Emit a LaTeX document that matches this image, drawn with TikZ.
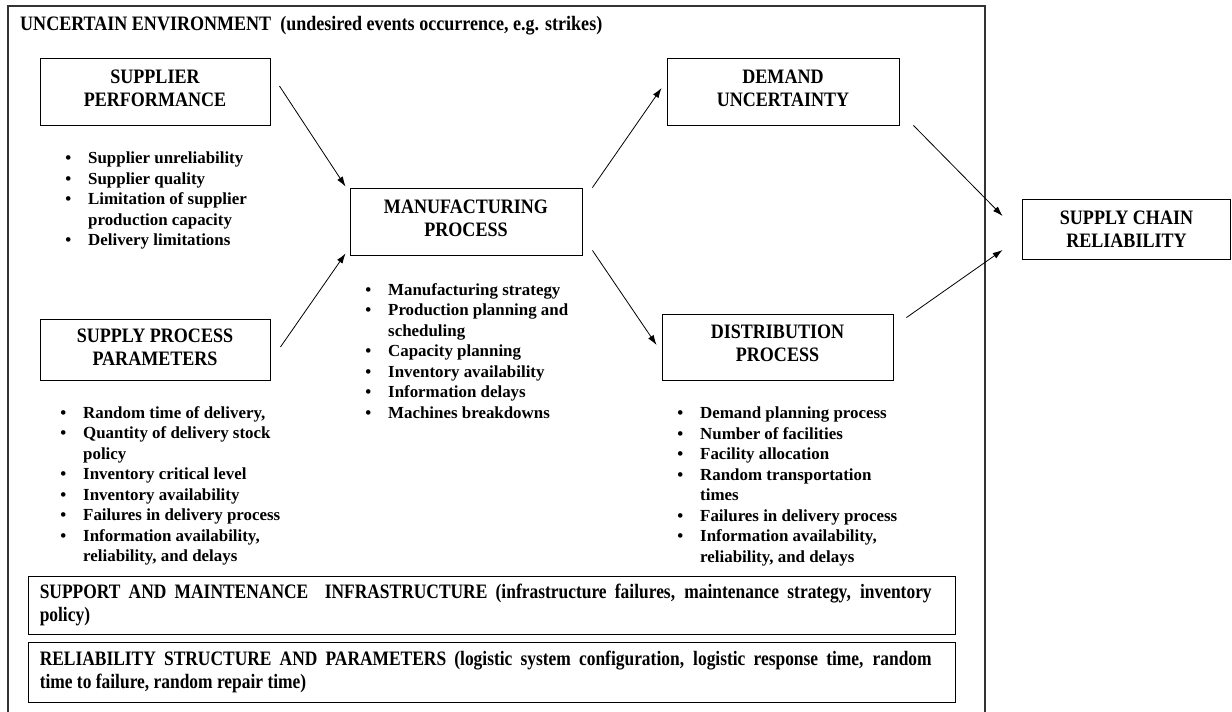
\documentclass[tikz,border=0pt]{standalone}
\usepackage{fontspec}
\setmainfont{Liberation Serif}
\newfontfamily\hdfont[FakeStretch=0.88]{Liberation Serif}
\newfontfamily\barfont[FakeStretch=0.85]{Liberation Serif}
\usetikzlibrary{arrows.meta,calc}
\newcommand\bitem[1]{\llap{\textbullet\hspace*{17pt}}#1}
\begin{document}
\begin{tikzpicture}[x=1pt,y=-1pt,
  box/.style={draw,line width=0.9pt,inner sep=0pt,align=center,text depth=6pt,
    font={\hdfont\bfseries\fontsize{20.5}{23}\selectfont}},
  bar/.style={draw,line width=0.9pt,inner sep=0pt,minimum width=927pt},
  bartext/.style={anchor=west,inner sep=0pt,text width=892pt,align=justify,
    font={\barfont\bfseries\fontsize{20.5}{23}\selectfont\hyphenpenalty=10000}},
  blist/.style={anchor=north west,inner sep=0pt,align=left,
    font={\bfseries\fontsize{16.9}{20.5}\selectfont}},
  conn/.style={line width=0.8pt,-{Latex[length=10pt,width=6.5pt]}},
  frame/.style={line width=1.3pt,draw=black!80}]
\useasboundingbox (0,0) rectangle (1232,712);

% outer uncertain environment frame
\draw[frame] (8,716) -- (8,6) -- (985,6) -- (985,716);
\node[anchor=west,inner sep=0pt,font={\hdfont\bfseries\fontsize{20.5}{23}\selectfont}]
  (title) at (20,26) {UNCERTAIN ENVIRONMENT\ \ (undesired events occurrence, e.g. strikes)};

% boxes
\node[box,minimum width=230pt,minimum height=67pt] (sp) at (155,91.5) {SUPPLIER\\PERFORMANCE};
\node[box,minimum width=230pt,minimum height=61pt,text depth=4pt] (spp) at (155,349.5) {SUPPLY PROCESS\\PARAMETERS};
\node[box,minimum width=232pt,minimum height=67pt] (mp) at (466,221.5) {MANUFACTURING\\PROCESS};
\node[box,minimum width=232pt,minimum height=67pt] (dm) at (783,91.5) {DEMAND\\UNCERTAINTY};
\node[box,minimum width=231pt,minimum height=66pt,text depth=7pt] (dp) at (777.5,347) {DISTRIBUTION\\PROCESS};
\node[box,line width=1.8pt,minimum width=208pt,minimum height=60pt,text depth=1pt] (scr) at (1126.5,229.5) {SUPPLY CHAIN\\RELIABILITY};

% bullet lists
\node[blist] (spl) at (88,152) {\bitem{Supplier unreliability}\\\bitem{Supplier quality}\\
  \bitem{Limitation of supplier}\\production capacity\\\bitem{Delivery limitations}};
\node[blist] (sppl) at (83,406) {\bitem{Random time of delivery,}\\\bitem{Quantity of delivery stock}\\
  policy\\\bitem{Inventory critical level}\\\bitem{Inventory availability}\\
  \bitem{Failures in delivery process}\\\bitem{Information availability,}\\reliability, and delays};
\node[blist] (mpl) at (388,283) {\bitem{Manufacturing strategy}\\\bitem{Production planning and}\\
  scheduling\\\bitem{Capacity planning}\\\bitem{Inventory availability}\\
  \bitem{Information delays}\\\bitem{Machines breakdowns}};
\node[blist] (dpl) at (700,407) {\bitem{Demand planning process}\\\bitem{Number of facilities}\\
  \bitem{Facility allocation}\\\bitem{Random transportation}\\times\\
  \bitem{Failures in delivery process}\\\bitem{Information availability,}\\reliability, and delays};

% bottom bars
\node[bar,minimum height=58pt] (sup) at (491.5,605) {};
\node[bartext] (supt) at ([xshift=12pt]sup.west) {SUPPORT AND MAINTENANCE\ \ INFRASTRUCTURE (infrastructure failures, maintenance strategy, inventory\linebreak policy)};
\node[bar,minimum height=60pt] (rel) at (491.5,672) {};
\node[bartext] (relt) at ([xshift=12pt]rel.west) {RELIABILITY STRUCTURE AND PARAMETERS (logistic system configuration, logistic response time, random\linebreak time to failure, random repair time)};

% connector end points
\coordinate (a1s) at ($(sp.east)+(9,-5.5)$);
\coordinate (a1e) at ($(mp.north west)+(-4,-1)$);
\coordinate (a2s) at ($(spp.east)+(10,-2.5)$);
\coordinate (a2e) at ($(mp.south west)+(-4,-2)$);
\coordinate (a3s) at ($(mp.north east)+(10,0)$);
\coordinate (a3e) at ($(dm.west)+(-5,-3.5)$);
\coordinate (a4s) at ($(mp.south east)+(10,-5)$);
\coordinate (a4e) at ($(dp.west)+(-5,-2)$);
\coordinate (a5s) at ($(dm.south east)+(14,0)$);
\coordinate (a5e) at ($(scr.west)+(-19,-13.5)$);
\coordinate (a6s) at ($(dp.north east)+(13,4)$);
\coordinate (a6e) at ($(scr.west)+(-19,20.5)$);

\draw[conn] (a1s) -- (a1e);
\draw[conn] (a2s) -- (a2e);
\draw[conn] (a3s) -- (a3e);
\draw[conn] (a4s) -- (a4e);
\draw[conn] (a5s) -- (a5e);
\draw[conn] (a6s) -- (a6e);
\end{tikzpicture}
\end{document}
